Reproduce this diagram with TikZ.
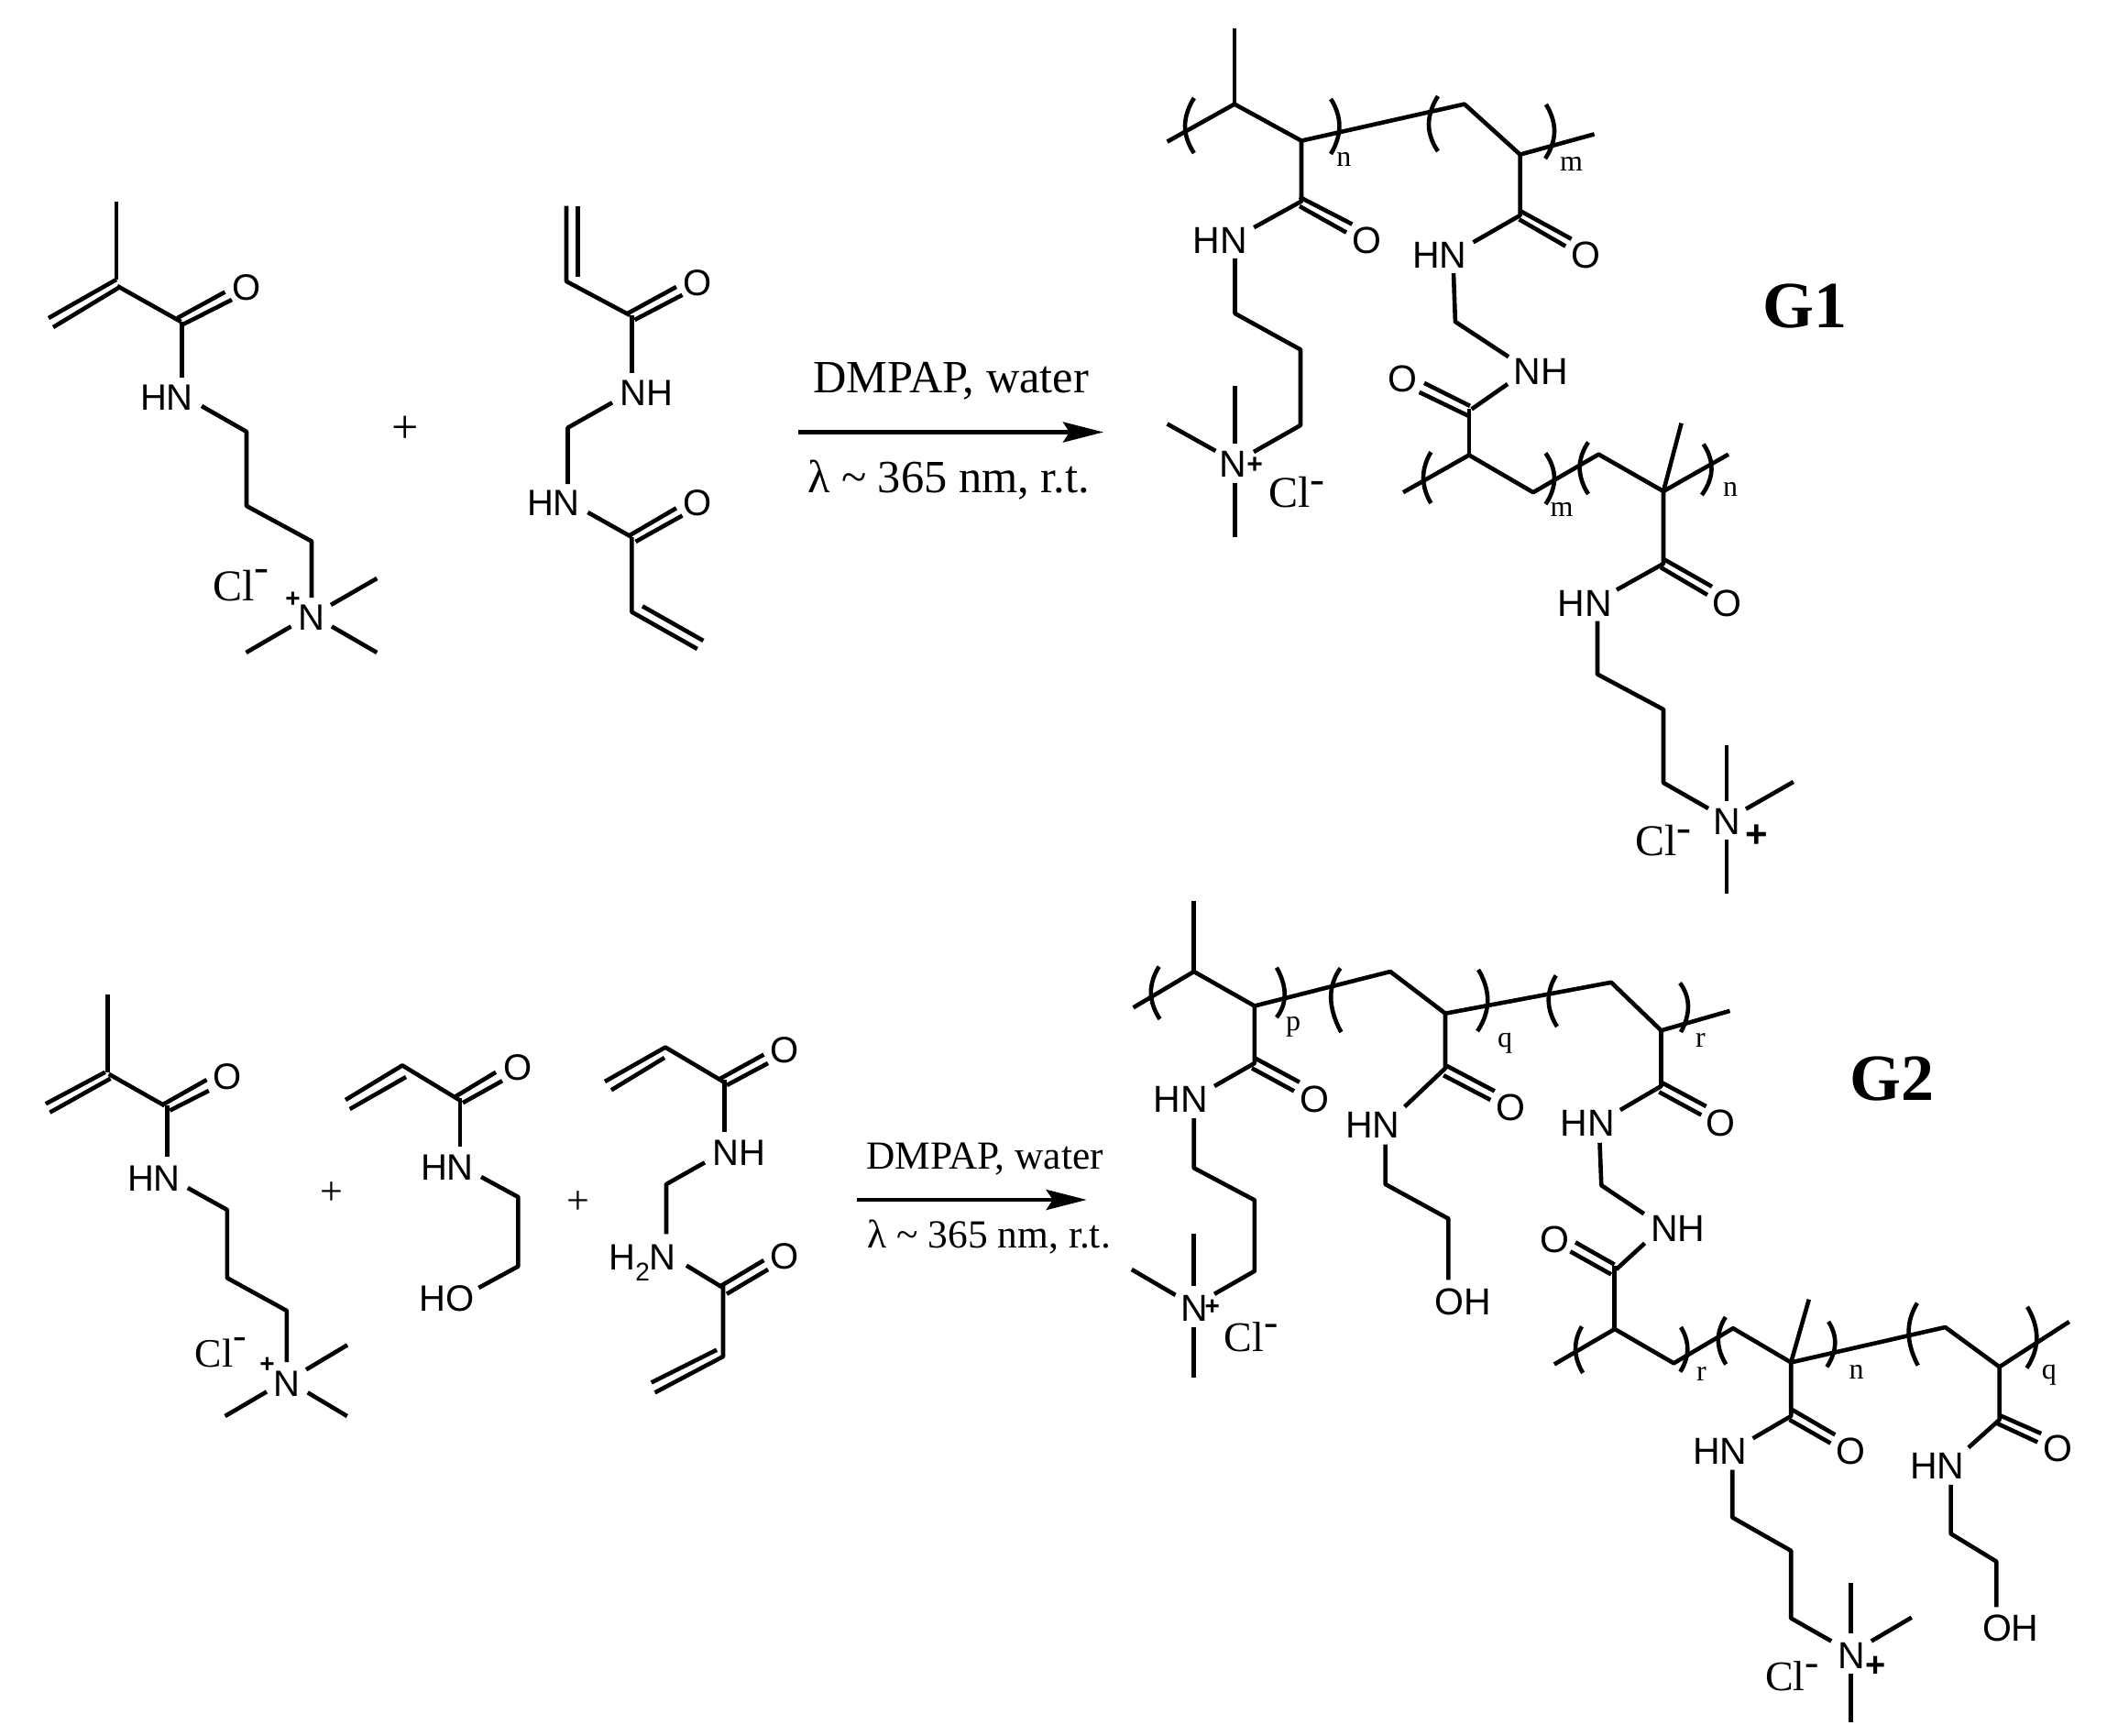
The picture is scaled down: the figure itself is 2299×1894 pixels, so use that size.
\documentclass[tikz,border=0pt]{standalone}
\usepackage{fontspec}
\setmainfont{Liberation Serif}
\newfontfamily\arialf{Liberation Sans}
\usetikzlibrary{arrows.meta}
\tikzset{
  bond/.style={line width=2.3pt,line cap=butt,line join=round,black},
  atom/.style={font=\arialf\fontsize{20.5}{20.5}\selectfont,inner sep=0pt,yshift=-0.5pt},
  matom/.style={font=\arialf\fontsize{20}{20}\selectfont,inner sep=0pt,yshift=-0.6pt},
  chg/.style={font=\arialf\bfseries\fontsize{#1}{#1}\selectfont,inner sep=0pt},
  sub/.style={font=\fontsize{16}{16}\selectfont,inner sep=0pt},
  clion/.style={font=\fontsize{#1}{#1}\selectfont,inner sep=0pt,anchor=base west},
  rtxt/.style={font=\fontsize{#1}{#1}\selectfont,inner sep=0pt},
  rbase/.style={font=\fontsize{#1}{#1}\selectfont,inner sep=0pt,anchor=base},
  biglab/.style={font=\bfseries\fontsize{36}{36}\selectfont,inner sep=0pt},
  reactarrow/.style={line width=2.4pt,-{Stealth[length=22pt,width=11pt,inset=3.5pt]}},
}
\newcommand{\pn}[3]{\draw[bond] plot[smooth,tension=1] coordinates {(#1) (#2) (#3)};}
\newcommand{\tld}{{\char`\~}}
\begin{document}
\begin{tikzpicture}[x=0.5pt,y=-0.5pt]
\path[use as bounding box,fill=white] (0,0) rectangle (2299,1894);
% ---------- Monomer A (G1)
\draw[bond] (127,220)--(127,305);
\draw[bond] (127,305)--(53,347);
\draw[bond] (131,313)--(58,357);
\draw[bond] (128,312)--(197.5,351);
\draw[bond] (193.5,347)--(245.5,318.6);
\draw[bond] (199.6,354)--(253,327);
\draw[bond] (198.6,351)--(198.6,412);
\draw[bond] (220,443)--(269,471)--(269,552)--(340,590.5)--(340,652);
\draw[bond] (361,660)--(411.3,631);
\draw[bond] (362,683.5)--(411.3,712);
\draw[bond] (317.5,683.5)--(268.5,712);
\node[matom] (a1o) at (269,313) {O};
\node[matom] (a1hn) at (182,433) {HN};
\node[matom] (a1n) at (340,673) {N};
\node[chg=14] (a1p) at (319.5,654.4) {+};
\node[clion=24] (a1cl) at (231.7,655.4) {Cl\raisebox{.43em}{-}};
\node[rtxt=26] (plus1) at (442,469) {+};
% ---------- Monomer B (G1)
\draw[bond] (630.7,224.6)--(630.7,301.8);
\draw[bond] (618,224.6)--(618,307)--(687.3,343.9);
\draw[bond] (684.8,342)--(737.9,313);
\draw[bond] (692.4,349)--(744.5,321.8);
\draw[bond] (689.4,344)--(689.4,407);
\draw[bond] (668,439.3)--(619.5,466.7)--(619.5,528);
\draw[bond] (641.4,559)--(689.4,586);
\draw[bond] (686.8,584.2)--(737.9,554.4);
\draw[bond] (693.5,591)--(744.5,562.5);
\draw[bond] (689.4,586)--(689.4,667.7)--(760.8,708);
\draw[bond] (701,661.4)--(767.4,699);
\node[matom] (b1o) at (760.8,308) {O};
\node[matom] (b1nh) at (705.2,428) {NH};
\node[matom] (b1hn) at (604,548) {HN};
\node[matom] (b1o2) at (760.8,548) {O};
% ---------- Arrow G1
\coordinate (ar1s) at (871,471.5);
\coordinate (ar1e) at (1204,471.5);
\draw[reactarrow] (ar1s)--(ar1e);
\node[rbase=25.2] (t1a) at (1037.7,428.6) {DMPAP, water};
\node[rbase=25.2] (t1b) at (1035,537.7) {λ \tld{} 365 nm, r.t.};
% ---------- G1 upper
\draw[bond] (1347,31)--(1347,113.6);
\draw[bond] (1273.6,154.6)--(1347,113.6)--(1420,153.6)--(1597.9,113.6)--(1658.6,168.6)--(1739.6,146.4);
\draw[bond] (1420,153.6)--(1420,219.6)--(1368.2,248.2);
\draw[bond] (1418,215)--(1475.4,244.6);
\draw[bond] (1418,225)--(1469,253.6);
\node[atom] (g1hn) at (1331.4,261.4) {HN};
\node[atom] (g1o) at (1491.4,261.4) {O};
\draw[bond] (1347.5,282)--(1347.5,342)--(1419,381.4)--(1419,464)--(1368,493);
\node[atom] (g1n) at (1345.7,505) {N};
\node[chg=15] (g1p) at (1369,508) {+};
\draw[bond] (1347.5,421.4)--(1347.5,484);
\draw[bond] (1273.6,462.5)--(1326.4,492);
\draw[bond] (1347.5,526.8)--(1347.5,585.7);
\node[clion=24] (g1cl) at (1383.6,553) {Cl\raisebox{.3em}{-}};
\pn{1302.9,107}{1293,137.5}{1302.9,167}
\pn{1452,108}{1461.4,137.5}{1452,168}
\pn{1569,105}{1559,135.7}{1569,165}
\pn{1686.8,114}{1696,143.6}{1686,173}
\node[sub] (g1sn) at (1466.4,174) {n};
\node[sub] (g1sm) at (1714.6,179) {m};
% crosslinker G1
\draw[bond] (1658.6,168.6)--(1658.6,235)--(1607.5,264.3);
\draw[bond] (1659.3,230.4)--(1714.6,260.7);
\draw[bond] (1657.5,239.3)--(1708.2,268.6);
\node[atom] (g1hn2) at (1570.7,277) {HN};
\node[atom] (g1o2) at (1730.7,277) {O};
\draw[bond] (1586,298.2)--(1587.9,351)--(1646,389.3);
\node[atom] (g1nh) at (1681.4,404.3) {NH};
\draw[bond] (1645,419)--(1605.7,446.4);
\node[atom] (g1o3) at (1530.7,412.5) {O};
\draw[bond] (1554,417.9)--(1604,442.9);
\draw[bond] (1548.6,427.9)--(1602,453.6);
\draw[bond] (1602.9,446)--(1602.9,496.4);
% G1 lower
\draw[bond] (1531,537.2)--(1602.9,496.5)--(1672.9,537.2)--(1744.3,495.7)--(1815,536)--(1886,495.7);
\draw[bond] (1815,536)--(1834.6,461.7);
\draw[bond] (1815,536)--(1815,615)--(1764,643.5);
\draw[bond] (1815.7,610.3)--(1868,640);
\draw[bond] (1812,619)--(1863,649);
\node[atom] (g1hn3) at (1729,657.3) {HN};
\node[atom] (g1o4) at (1884.6,657.3) {O};
\draw[bond] (1743,677.5)--(1743,735.6)--(1815,774)--(1815,854)--(1864,882);
\node[atom] (g1n2) at (1884,895.7) {N};
\node[chg=21] (g1p2) at (1916.4,912) {+};
\draw[bond] (1884,812.7)--(1884,874);
\draw[bond] (1905,882.6)--(1956.8,853);
\draw[bond] (1884,915.5)--(1884,974.7);
\node[clion=24] (g1cl2) at (1783.6,933) {Cl\raisebox{.3em}{-}};
\pn{1561.4,493.3}{1553,521}{1561.4,549}
\pn{1686.4,494.5}{1696,522}{1686.4,550}
\pn{1733,482.6}{1723.6,510.3}{1733,539}
\pn{1858.6,484.6}{1867.5,512.3}{1856.8,540}
\node[sub] (g1sm2) at (1704,555.8) {m};
\node[sub] (g1sn2) at (1888,534) {n};
\node[biglab] (g1lab) at (1969,334) {G1};
% ---------- Monomer A (G2)
\draw[bond] (117.6,1085)--(117.6,1169.8);
\draw[bond] (114.7,1169.8)--(49.9,1204.3);
\draw[bond] (120.5,1176.7)--(54.4,1213.7);
\draw[bond] (118.7,1171.8)--(179.6,1206.3);
\draw[bond] (177.9,1205)--(225.5,1178.1);
\draw[bond] (185.3,1211.6)--(227.8,1190);
\draw[bond] (182.5,1206)--(182.5,1261.7);
\draw[bond] (204.8,1296)--(247.9,1320)--(247.9,1394.3)--(312.8,1430)--(312.8,1486);
\draw[bond] (334,1494.3)--(379,1467.4);
\draw[bond] (335.7,1519.3)--(378.8,1545);
\draw[bond] (291,1518.4)--(245.6,1545);
\node[matom] (c1o) at (247.9,1173.3) {O};
\node[matom] (c1hn) at (168,1284.3) {HN};
\node[matom] (c1n) at (312.8,1508.4) {N};
\node[chg=14] (c1p) at (291.5,1489.6) {+};
\node[clion=22] (c1cl) at (212.3,1491) {Cl\raisebox{.45em}{-}};
\node[rtxt=22] (plus2) at (361.6,1302.3) {+};
% Monomer B (G2)
\draw[bond] (377,1200)--(439,1162.4)--(501,1200);
\draw[bond] (443,1175)--(381.7,1210);
\draw[bond] (496.5,1196.6)--(541,1169.8);
\draw[bond] (505,1203.2)--(548,1179.2);
\draw[bond] (502,1198)--(502,1250.7);
\draw[bond] (525,1284)--(565.4,1306)--(565.4,1381.6)--(522.3,1405);
\node[matom] (d1o) at (565.4,1164) {O};
\node[matom] (d1hn) at (487.9,1272.6) {HN};
\node[matom] (d1ho) at (487.9,1416) {HO};
\node[rtxt=22] (plus3) at (631.4,1311.7) {+};
% Monomer C (G2)
\draw[bond] (660,1180)--(726,1142.6)--(789,1180);
\draw[bond] (725,1154)--(667,1189.3);
\draw[bond] (786,1176.7)--(833.4,1150.6);
\draw[bond] (793,1184)--(838,1160);
\draw[bond] (790.4,1178)--(790.4,1235);
\draw[bond] (769,1268.3)--(727,1292)--(727,1346.4);
\draw[bond] (749,1380.7)--(789,1405);
\draw[bond] (786,1403.3)--(833.4,1375);
\draw[bond] (793,1411.7)--(838,1385);
\draw[bond] (789,1403)--(789,1480)--(714.6,1519.3);
\draw[bond] (782,1472.7)--(710.6,1508.4);
\node[matom] (e1o) at (856.4,1145) {O};
\node[matom] (e1nh) at (806.4,1256.5) {NH};
\node[matom,anchor=base west] (e1h2n) at (664,1384) {H\raisebox{-.3em}{\fontsize{14}{14}\selectfont 2}N};
\node[matom] (e1o2) at (856.4,1369.4) {O};
% Arrow G2
\coordinate (ar2s) at (935,1309);
\coordinate (ar2e) at (1185.7,1309);
\draw[reactarrow] (ar2s)--(ar2e);
\node[rbase=21.7] (t2a) at (1074.5,1275) {DMPAP, water};
\node[rbase=21.7] (t2b) at (1079.3,1361.7) {λ \tld{} 365 nm, r.t.};
% ---------- G2 upper
\draw[bond] (1302.7,983)--(1302.7,1060);
\draw[bond] (1236.6,1099.3)--(1302.7,1060)--(1368.8,1097.5)--(1517,1060)--(1577,1105.7)--(1758,1071.8)--(1812.5,1124.3)--(1887.5,1102.9);
\draw[bond] (1368.8,1097.5)--(1368.8,1160)--(1325,1185);
\draw[bond] (1369.6,1154.6)--(1417.9,1180.7);
\draw[bond] (1366,1165.4)--(1412,1190.4);
\node[atom] (h1hn) at (1288.4,1198.6) {HN};
\node[atom] (h1o) at (1434.4,1198.6) {O};
\draw[bond] (1302.7,1220)--(1302.7,1274.3)--(1368.8,1309.3)--(1368.8,1386.8)--(1325,1411.8);
\node[atom] (h1n) at (1303.6,1426) {N};
\node[chg=14] (h1p) at (1322.8,1426) {+};
\draw[bond] (1302.7,1346.4)--(1302.7,1402.9);
\draw[bond] (1234.8,1385)--(1282.6,1412.9);
\draw[bond] (1302.7,1447.5)--(1302.7,1502.9);
\node[clion=23] (h1cl) at (1335.3,1474) {Cl\raisebox{.35em}{-}};
% second pendant
\draw[bond] (1577,1105.7)--(1577,1165.4)--(1532.6,1207.5);
\draw[bond] (1578.6,1162.9)--(1630.8,1190.4);
\draw[bond] (1575,1173.2)--(1626.3,1200);
\node[atom] (h2hn) at (1497.8,1226) {HN};
\node[atom] (h2o) at (1648.7,1207) {O};
\draw[bond] (1511.6,1248.6)--(1511.6,1292)--(1580.4,1329.6)--(1580.4,1396.4);
\node[atom] (h2oh) at (1596.4,1419) {OH};
% third pendant
\draw[bond] (1812.5,1124.3)--(1812.5,1185)--(1767.9,1211);
\draw[bond] (1813.8,1181.4)--(1861.6,1207);
\draw[bond] (1810.3,1191.4)--(1856.3,1216.4);
\node[atom] (h3hn) at (1732,1224.3) {HN};
\node[atom] (h3o) at (1877.7,1224.3) {O};
\draw[bond] (1745.5,1246.8)--(1747.3,1293.2)--(1793.8,1324.3);
\node[atom] (h3nh) at (1830.8,1339.6) {NH};
\draw[bond] (1794.6,1356.4)--(1763.4,1385);
\node[atom] (h3o2) at (1696.4,1351) {O};
\draw[bond] (1719,1355.4)--(1761.6,1379.6);
\draw[bond] (1713.4,1365.4)--(1758,1390.4);
\draw[bond] (1761.6,1381)--(1761.6,1450);
\pn{1264.7,1054.6}{1255.8,1083.2}{1265.6,1111.8}
\pn{1392.9,1055.7}{1401.8,1085}{1392.9,1110}
\pn{1462.5,1056.4}{1452.2,1088.6}{1463.4,1126}
\pn{1613,1058}{1623.2,1092}{1612,1125}
\pn{1697.8,1064.3}{1689.7,1092}{1699,1120}
\pn{1833,1072.5}{1842,1097.5}{1834,1126}
\node[sub] (hsp) at (1411,1120.7) {p};
\node[sub] (hsq) at (1642,1138.6) {q};
\node[sub] (hsr) at (1855.4,1135) {r};
% G2 lower
\draw[bond] (1695.9,1488.5)--(1761.9,1450)--(1826.3,1487.3)--(1891,1449.2)--(1954.2,1486.4)--(2122.5,1448)--(2181.6,1491.3)--(2257.8,1442);
\draw[bond] (1954.2,1486.4)--(1973.8,1417.7);
\draw[bond] (1954.2,1486.4)--(1954.2,1545)--(1912.6,1569.3);
\draw[bond] (1955.4,1538)--(2002.3,1565.3);
\draw[bond] (1952.6,1549)--(1997.4,1574.6);
\node[atom] (i1hn) at (1876.8,1582.3) {HN};
\node[atom] (i1o) at (2019.4,1582.3) {O};
\draw[bond] (1890.2,1603.7)--(1890.2,1655.5)--(1954.2,1691.9)--(1954.2,1765.5)--(1998.2,1790.5);
\node[atom] (i1n) at (2020.6,1805) {N};
\node[chg=19] (i1p) at (2047,1818) {+};
\draw[bond] (2019.4,1727)--(2019.4,1782.4);
\draw[bond] (2041.8,1790.5)--(2085.8,1764.7);
\draw[bond] (2019.4,1826)--(2019.4,1878.7);
\node[clion=23] (i1cl) at (1925.7,1844.3) {Cl\raisebox{.35em}{-}};
\draw[bond] (2181.6,1491.3)--(2181.6,1549)--(2147.8,1579.4);
\draw[bond] (2182.4,1544.3)--(2227.2,1564);
\draw[bond] (2179.6,1553.2)--(2223.2,1573.4);
\node[atom] (i2hn) at (2113.6,1598.5) {HN};
\node[atom] (i2o) at (2245.6,1579.4) {O};
\draw[bond] (2128.6,1619.9)--(2128.6,1673.3)--(2178.3,1703.6)--(2178.3,1753.3);
\node[atom] (i2oh) at (2193.8,1775.6) {OH};
\pn{1726,1447.2}{1719,1472.3}{1727.2,1497.8}
\pn{1834,1448}{1841.3,1472.3}{1833.2,1496.6}
\pn{1882.9,1437}{1874.8,1462.2}{1883.3,1488.5}
\pn{1995,1442}{2002.3,1466}{1993.3,1491.3}
\pn{2092,1421.7}{2082.6,1454}{2092.8,1489.7}
\pn{2212,1425.8}{2222.3,1460}{2211.4,1492.5}
\node[sub] (isr) at (1856.4,1498.6) {r};
\node[sub] (isn) at (2025.5,1497.4) {n};
\node[sub] (isq) at (2235.8,1500.6) {q};
\node[biglab] (g2lab) at (2064.5,1177) {G2};
\end{tikzpicture}
\end{document}
